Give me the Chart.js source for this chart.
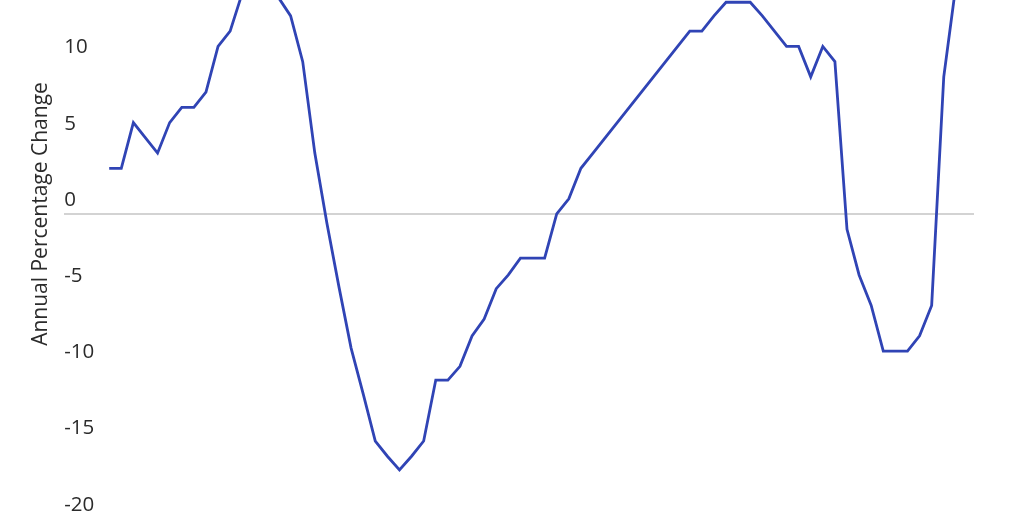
<!DOCTYPE html>
<html>
<head>
<meta charset="utf-8">
<script src="https://cdn.jsdelivr.net/npm/chart.js@4"></script>
<style>
  html, body { margin: 0; padding: 0; background: #fff; overflow: hidden; width: 1024px; height: 512px; }
  #wrap { position: absolute; left: 0; top: -103px; width: 1024px; height: 634px; }
</style>
</head>
<body>
<div id="wrap"><canvas id="chart" width="1024" height="634"></canvas></div>
<script>
// period index of each observation
const periods = [
  0, 1, 2, 3, 4, 5, 6, 7, 8, 9,
  10, 11, 12, 13, 14, 15, 16, 17, 18, 19,
  20, 21, 22, 23, 24, 25, 26, 27, 28, 29,
  30, 31, 32, 33, 34, 35, 36, 37, 38, 39,
  40, 41, 42, 43, 44, 45, 46, 47, 48, 49,
  50, 51, 52, 53, 54, 55, 56, 57, 58, 59,
  60, 61, 62, 63, 64, 65, 66, 67, 68, 69, 70
];
// annual percentage change
const changes = [
  3, 3, 6, 5, 4, 6, 7, 7, 8, 11,
  12, 14.5, 15.5, 15.2, 14.2, 13, 10, 4, -0.6, -4.8,
  -8.8, -11.8, -14.9, -15.9, -16.8, -15.9, -14.9, -10.9, -10.9, -10,
  -8, -6.9, -4.9, -4, -2.9, -2.9, -2.9, 0, 1, 3,
  4, 5, 6, 7, 8, 9, 10, 11, 12, 12,
  13, 13.9, 13.9, 13.9, 13, 12, 11, 11, 9, 11,
  10, -1, -4, -6, -9, -9, -9, -8, -6, 9, 15
];
const yTicks = [-20, -15, -10, -5, 0, 5, 10, 15, 20];

const points = periods.map((p, i) => ({ x: p, y: changes[i] }));

new Chart(document.getElementById("chart"), {
  type: "line",
  data: {
    datasets: [{
      data: points,
      borderColor: "#3044b5",
      borderWidth: 2.8,
      pointRadius: 0,
      tension: 0,
      fill: false,
    }],
  },
  options: {
    responsive: false,
    animation: false,
    devicePixelRatio: 1,
    layout: { padding: { top: 8, bottom: 8, left: 17, right: 50 } },
    plugins: { legend: { display: false }, tooltip: { enabled: false } },
    scales: {
      x: {
        type: "linear",
        display: false,
        min: -3.72,
        max: 71.5,
      },
      y: {
        min: -20,
        max: 20,
        afterBuildTicks: (axis) => { axis.ticks = yTicks.map((v) => ({ value: v })); },
        border: { display: false },
        grid: {
          drawTicks: false,
          lineWidth: 2,
          color: (ctx) => (ctx.tick && ctx.tick.value === 0 ? "#d3d3d3" : "rgba(0,0,0,0)"),
        },
        ticks: {
          mirror: true,
          padding: 0,
          labelOffset: -14,
          color: "#2b2b2b",
          font: { family: "Open Sans", size: 20.5 },
        },
        title: {
          display: true,
          text: "Annual Percentage Change",
          color: "#2b2b2b",
          padding: 11,
          font: { family: "Open Sans", size: 21 },
        },
      },
    },
  },
});
</script>
</body>
</html>
